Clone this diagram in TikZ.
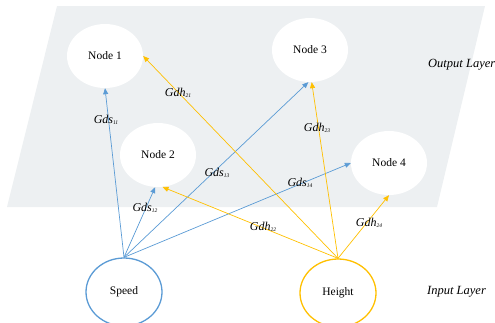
\documentclass[tikz,border=0pt]{standalone}
\usepackage{fontspec}
\setmainfont{Liberation Serif}
\usetikzlibrary{shapes.geometric,arrows.meta}
\definecolor{layergray}{HTML}{EDF0F2}
\definecolor{linkblue}{HTML}{5B9BD5}
\definecolor{linkgold}{HTML}{FFC000}
\newcommand{\wlabel}[2]{\textit{#1}\raisebox{-1.6pt}{\fontsize{5.5}{6}\selectfont\itshape #2}}
\tikzset{
  outnode/.style={ellipse, fill=white, minimum width=76pt, minimum height=64pt, inner sep=0pt, font=\fontsize{11.5}{13}\selectfont},
  innode/.style={ellipse, fill=white, line width=1.3pt, minimum width=76pt, minimum height=68pt, inner sep=0pt, font=\fontsize{11.5}{13}\selectfont},
  link/.style={line width=0.7pt, -{Triangle[length=6pt,width=5pt]}},
  bluelink/.style={link, draw=linkblue},
  goldlink/.style={link, draw=linkgold},
  wtext/.style={inner sep=0pt, font=\fontsize{12}{13}\selectfont},
  layertext/.style={inner sep=0pt, font=\fontsize{12.5}{14}\selectfont\itshape}
}
\begin{document}
\begin{tikzpicture}[x=1pt,y=-1pt]
  \useasboundingbox (0,0) rectangle (495,322);
  % output layer plane
  \fill[layergray] (57,6) -- (485,6) -- (437,207) -- (7,207) -- cycle;

  % output neurons
  \node[outnode] (n1) at (105,56) {Node 1};
  \node[outnode] (n3) at (310,50) {Node 3};
  \node[outnode] (n2) at (158,155) {Node 2};
  \node[outnode] (n4) at (389,163) {Node 4};

  % input neurons
  \node[innode, draw=linkblue] (speed) at (124,292) {Speed};
  \node[innode, draw=linkgold] (height) at (338,293) {Height};

  % connections from Speed
  \draw[bluelink] (speed.north) -- (n1.south);
  \draw[bluelink] (speed.north) -- (n2.-95);
  \draw[bluelink] (speed.north) -- (n3.-93);
  \draw[bluelink] (speed.north) -- (n4.west);

  % connections from Height
  \draw[goldlink] (height.north) -- (n1.east);
  \draw[goldlink] (height.north) -- (n2.-82);
  \draw[goldlink] (height.north) -- (n3.-87);
  \draw[goldlink] (height.north) -- (n4.south);

  % weight labels
  \node[wtext] (l11) at (106,120) {\wlabel{Gds}{11}};
  \node[wtext] (l12) at (145,208) {\wlabel{Gds}{12}};
  \node[wtext] (l13) at (217,173) {\wlabel{Gds}{13}};
  \node[wtext] (l14) at (300,183) {\wlabel{Gds}{14}};
  \node[wtext] (l21) at (178,93) {\wlabel{Gdh}{21}};
  \node[wtext] (l22) at (263,227) {\wlabel{Gdh}{22}};
  \node[wtext] (l23) at (317,128) {\wlabel{Gdh}{23}};
  \node[wtext] (l24) at (369,223) {\wlabel{Gdh}{24}};

  % layer captions
  \node[layertext, anchor=west] (outcap) at (428,65) {Output Layer};
  \node[layertext, anchor=west] (incap) at (427,292) {Input Layer};
\end{tikzpicture}
\end{document}
